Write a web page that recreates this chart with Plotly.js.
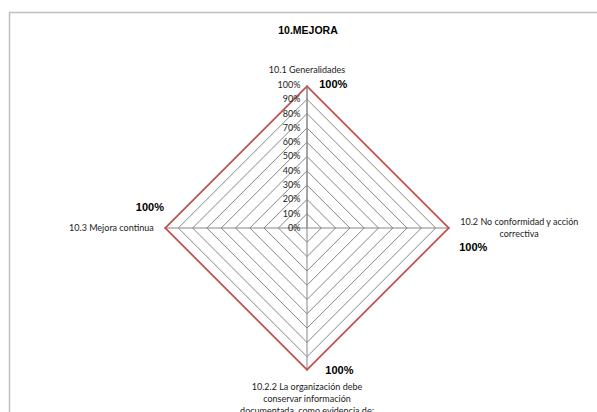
<!DOCTYPE html>
<html>
<head>
<meta charset="utf-8">
<script src="https://cdn.plot.ly/plotly-3.0.1.min.js"></script>
<style>
html,body{margin:0;padding:0;background:#fff;}
#chart{width:597px;height:412px;}
</style>
</head>
<body>
<div id="chart"></div>
<script>
// Data
const NB = "\u00a0";
const categories = [
  "10.1 Generalidades",
  "10.2 No conformidad y acción<br>" + NB.repeat(17) + "correctiva",
  "10.2.2 La organización debe<br>conservar información<br>documentada, como evidencia de:",
  "10.3 Mejora continua"
];
const values = [1.0, 1.0, 1.0, 1.0];
const radialTicks = [0, 0.1, 0.2, 0.3, 0.4, 0.5, 0.6, 0.7, 0.8, 0.9, 1.0];
const labelPositions = ["middle right", "bottom right", "middle right", "top left"];
const labelTemplates = [NB.repeat(4) + "%{text}", "<br>" + NB.repeat(3) + "%{text}", NB.repeat(6) + "%{text}", "%{text}<br>" + NB];

const W = 597, H = 412;
const rClosed = values.concat([values[0]]);
const thetaClosed = categories.concat([categories[0]]);
const textClosed = values.map(v => Math.round(v * 100) + "%").concat([""]);
const posClosed = labelPositions.concat(["middle right"]);
const tplClosed = labelTemplates.concat([""]);

const trace = {
  type: "scatterpolar",
  mode: "lines+text",
  r: rClosed,
  theta: thetaClosed,
  text: textClosed,
  texttemplate: tplClosed,
  textposition: posClosed,
  textfont: {family: "Liberation Sans, Arial, sans-serif", size: 11, color: "#000", weight: "bold"},
  line: {color: "#C0504D", width: 3.5},
  cliponaxis: false,
  hoverinfo: "skip",
  showlegend: false
};

const layout = {
  width: W, height: H,
  margin: {l: 0, r: 0, t: 0, b: 0},
  paper_bgcolor: "#fff",
  plot_bgcolor: "#fff",
  title: {
    text: "<b>10.MEJORA</b>",
    font: {family: "Liberation Sans, Arial, sans-serif", size: 10.5, color: "#000"},
    x: 308 / W, xanchor: "center",
    y: 1 - 30 / H, yanchor: "middle"
  },
  polar: {
    domain: {x: [164 / W, 450 / W], y: [(H - 371) / H, (H - 85) / H]},
    gridshape: "linear",
    bgcolor: "#fff",
    radialaxis: {
      range: [0, 1],
      tickvals: radialTicks,
      ticktext: radialTicks.map(v => Math.round(v * 100) + "%"),
      angle: 90,
      tickangle: 90,
      side: "counterclockwise",
      showline: true,
      linecolor: "#868686",
      linewidth: 1,
      gridcolor: "#868686",
      gridwidth: 1,
      ticks: "outside",
      ticklen: 3,
      tickcolor: "rgba(0,0,0,0)",
      tickfont: {family: "Lato, Open Sans, sans-serif", size: 9, color: "#222"}
    },
    angularaxis: {
      direction: "clockwise",
      rotation: 90,
      showline: false,
      linecolor: "#868686",
      gridcolor: "#868686",
      gridwidth: 1,
      ticks: "outside",
      ticklen: 8,
      tickcolor: "rgba(0,0,0,0)",
      tickfont: {family: "Lato, Open Sans, sans-serif", size: 9, color: "#222"}
    }
  },
  shapes: [
    {type: "line", xref: "paper", yref: "paper", x0: 9.5 / W, x1: 9.5 / W, y0: 1 - 12 / H, y1: -0.05, line: {color: "#BFBFBF", width: 1.5}},
    {type: "line", xref: "paper", yref: "paper", x0: 9 / W, x1: 1.05, y0: 1 - 12.5 / H, y1: 1 - 12.5 / H, line: {color: "#BFBFBF", width: 1.5}}
  ]
};

Plotly.newPlot("chart", [trace], layout, {displayModeBar: false, staticPlot: true});
</script>
</body>
</html>
